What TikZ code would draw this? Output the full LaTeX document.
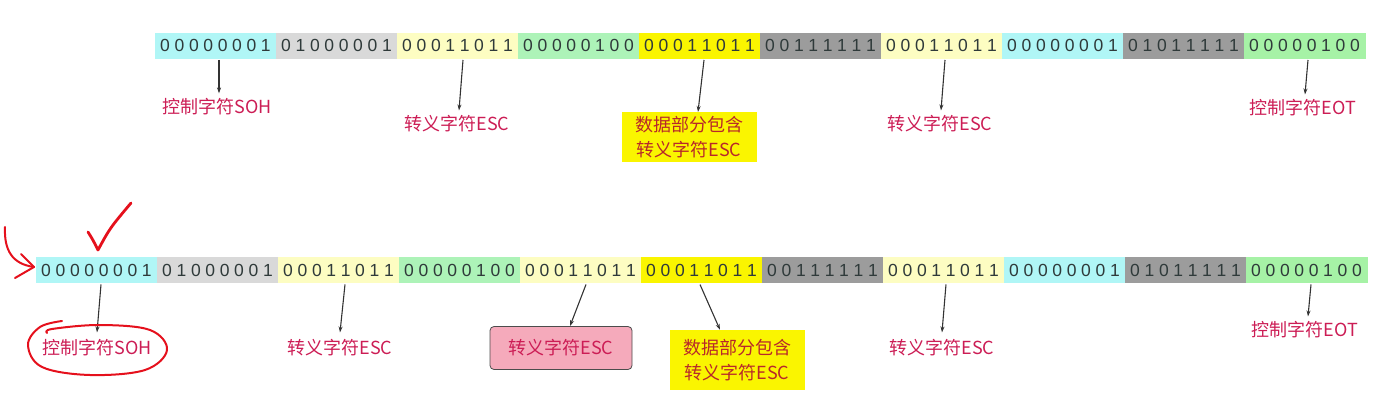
\documentclass[tikz,border=0pt]{standalone}
\usepackage{fontspec}
\setmainfont{Liberation Sans}
\newfontfamily\cjk{Noto Sans CJK SC}
\usetikzlibrary{calc,arrows.meta}
\definecolor{ccyan}{HTML}{B0F6F6}
\definecolor{cgray}{HTML}{D9D9D9}
\definecolor{clyel}{HTML}{FDFDC2}
\definecolor{clgrn}{HTML}{ADF3B8}
\definecolor{cgrn}{HTML}{A6F2A6}
\definecolor{cyel}{HTML}{FAF500}
\definecolor{cdgray}{HTML}{9C9C9C}
\definecolor{lblred}{HTML}{CC1D55}
\definecolor{ylbl}{HTML}{B8282A}
\definecolor{cpink}{HTML}{F5AABB}
\definecolor{digit}{HTML}{2F3A3A}
\definecolor{penred}{HTML}{E5101C}
\newcommand\spreadbits[1]{\spreadaux#1\relax}
\def\spreadaux#1{\ifx#1\relax\else\makebox[14.4pt]{#1}\expandafter\spreadaux\fi}
\tikzset{
  bitbox/.style={minimum width=121pt, minimum height=25pt, inner sep=0pt, outer sep=0pt, anchor=west,
    font=\fontsize{17.5}{18}\selectfont, text=digit, line width=0.8pt},
  cb/.style={fill=#1, draw=#1},
  lbl/.style={font=\cjk\fontsize{18}{22}\selectfont, text=lblred, inner sep=2pt},
  ylabel/.style={font=\cjk\fontsize{18}{25}\selectfont, text=ylbl, fill=cyel, align=center,
    minimum width=135pt, inner sep=4pt},
  arr/.style={-{Stealth[length=6pt,width=4pt]}, line width=1.1pt, draw=black!80},
  pen/.style={penred, line width=2.8pt, line cap=round, line join=round},
}
\begin{document}
\begin{tikzpicture}[x=1pt,y=-1pt]
\useasboundingbox (0,0) rectangle (1390,406);
% top row
\node[bitbox, cb=ccyan]  (t1)  at (155,45.5) {\spreadbits{00000001}};
\node[bitbox, cb=cgray]  (t2)  at (t1.east)  {\spreadbits{01000001}};
\node[bitbox, cb=clyel]  (t3)  at (t2.east)  {\spreadbits{00011011}};
\node[bitbox, cb=clgrn]  (t4)  at (t3.east)  {\spreadbits{00000100}};
\node[bitbox, cb=cyel]   (t5)  at (t4.east)  {\spreadbits{00011011}};
\node[bitbox, cb=cdgray] (t6)  at (t5.east)  {\spreadbits{00111111}};
\node[bitbox, cb=clyel]  (t7)  at (t6.east)  {\spreadbits{00011011}};
\node[bitbox, cb=ccyan]  (t8)  at (t7.east)  {\spreadbits{00000001}};
\node[bitbox, cb=cdgray] (t9)  at (t8.east)  {\spreadbits{01011111}};
\node[bitbox, cb=cgrn]   (t10) at (t9.east)  {\spreadbits{00000100}};
% top labels
\node[lbl] (l1) at (217,107) {控制字符SOH};
\node[lbl] (l3) at (457,124) {转义字符ESC};
\node[ylabel] (l5) at (689,137) {数据部分包含\\转义字符ESC};
\node[lbl] (l7) at (940,124) {转义字符ESC};
\node[lbl] (l10) at (1303,108) {控制字符EOT};
\draw[arr] ($(t1.south west)+(64,2)$) -- ($(l1.north)+(2,-3)$);
\draw[arr] ($(t3.south west)+(66,2)$) -- ($(l3.north)+(2,-3)$);
\draw[arr] ($(t5.south west)+(65,2)$) -- (l5.north -| 698,0);
\draw[arr] ($(t7.south west)+(64,2)$) -- ($(l7.north)+(1,-3)$);
\draw[arr] ($(t10.south west)+(64,2)$) -- ($(l10.north)+(2,-3)$);
% bottom row
\node[bitbox, cb=ccyan]  (b1)  at (36,270) {\spreadbits{00000001}};
\node[bitbox, cb=cgray]  (b2)  at (b1.east)  {\spreadbits{01000001}};
\node[bitbox, cb=clyel]  (b3)  at (b2.east)  {\spreadbits{00011011}};
\node[bitbox, cb=clgrn]  (b4)  at (b3.east)  {\spreadbits{00000100}};
\node[bitbox, cb=clyel]  (b5)  at (b4.east)  {\spreadbits{00011011}};
\node[bitbox, cb=cyel]   (b6)  at (b5.east)  {\spreadbits{00011011}};
\node[bitbox, cb=cdgray] (b7)  at (b6.east)  {\spreadbits{00111111}};
\node[bitbox, cb=clyel]  (b8)  at (b7.east)  {\spreadbits{00011011}};
\node[bitbox, cb=ccyan]  (b9)  at (b8.east)  {\spreadbits{00000001}};
\node[bitbox, cb=cdgray] (b10) at (b9.east)  {\spreadbits{01011111}};
\node[bitbox, cb=cgrn]   (b11) at (b10.east) {\spreadbits{00000100}};
% bottom labels
\node[lbl] (m1) at (97,348) {控制字符SOH};
\node[lbl] (m3) at (340,348) {转义字符ESC};
\node[lbl, fill=cpink, draw=black!70, line width=0.8pt, rounded corners=4pt,
      minimum width=142pt, minimum height=43pt] (m5) at (561,348) {转义字符ESC};
\node[ylabel, minimum height=60pt] (m6) at (737,360) {数据部分包含\\转义字符ESC};
\node[lbl] (m8) at (942,348) {转义字符ESC};
\node[lbl] (m11) at (1305,330) {控制字符EOT};
\draw[arr] ($(b1.south west)+(65,2)$) -- ($(m1.north)+(0,-5)$);
\draw[arr] ($(b3.south west)+(67,2)$) -- ($(m3.north)+(0,-5)$);
\draw[arr] ($(b5.south west)+(66,2)$) -- (m5.north -| 570,0);
\draw[arr] ($(b6.south west)+(59,2)$) -- (m6.north -| 720,0);
\draw[arr] ($(b8.south west)+(63,2)$) -- ($(m8.north)+(0,-5)$);
\draw[arr] ($(b11.south west)+(65,2)$) -- ($(m11.north)+(3,-3)$);
% hand-drawn marks
\draw[pen] (88,232) .. controls (93,240) .. (98,250) .. controls (110,228) .. (131,203);
\draw[pen, line width=2pt] (5,227) .. controls (4,250) and (12,264) .. (34,267);
\draw[pen, line width=2pt] (21,254) -- (34,267) -- (15,278);
\draw[pen, line width=2pt] plot[smooth, tension=0.6] coordinates
  {(62,321) (40,327) (28,345) (42,367) (90,375) (145,370) (167,350) (150,330) (100,325) (52,329) (47,333)};
\end{tikzpicture}
\end{document}
